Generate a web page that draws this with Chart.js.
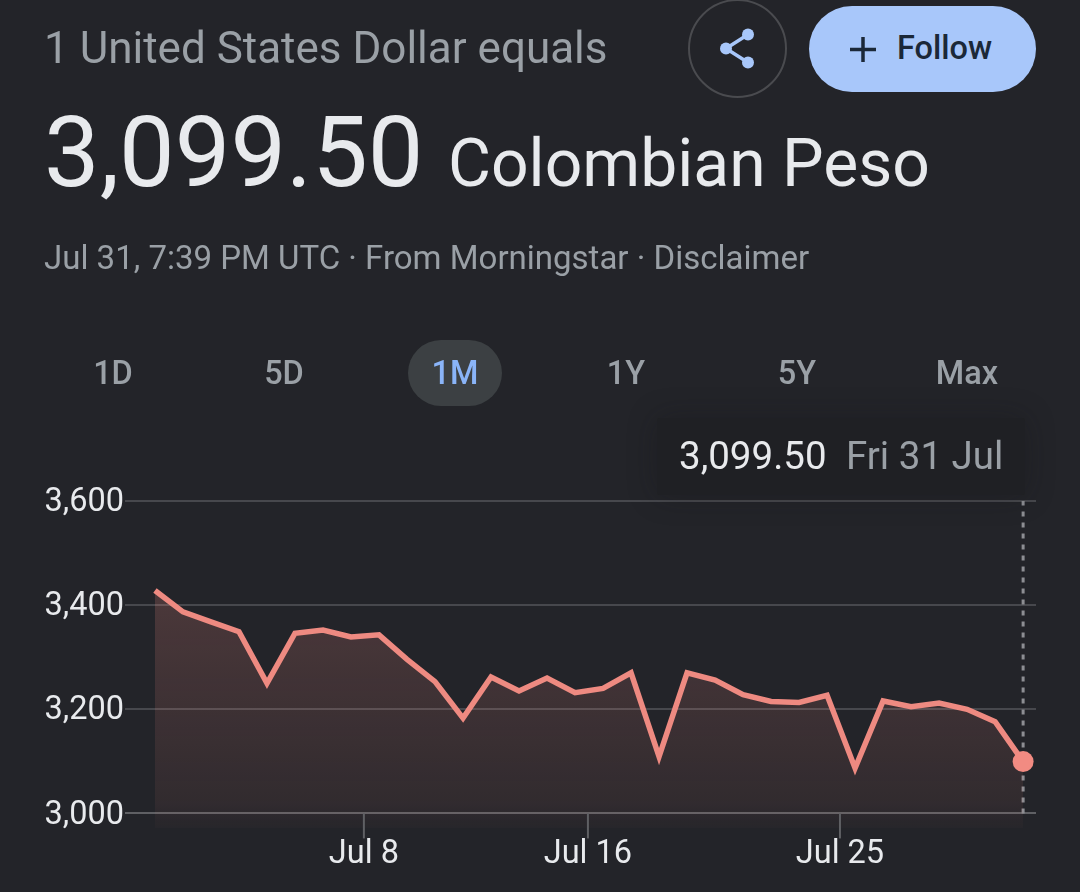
<!DOCTYPE html>
<html><head><meta charset="utf-8">
<script src="https://cdn.jsdelivr.net/npm/chart.js@4"></script>
<style>
html,body{margin:0;padding:0;background:#232429;width:1080px;height:892px;overflow:hidden;font-family:Roboto,sans-serif}
#c{position:absolute;left:0;top:0}
.t{position:absolute;white-space:nowrap;line-height:1}
.tab{position:absolute;top:340px;height:66px;line-height:66px;width:94px;text-align:center;font-size:32.5px;font-weight:500;color:#9aa0a6;border-radius:33px}
.tab.on{color:#8ab4f8;background:#3c4043}
#tip{position:absolute;left:657px;top:418px;width:368px;height:77px;background:#1f2024;box-shadow:0 0 30px rgba(20,20,24,.3);border-radius:3px}
#share{position:absolute;left:688px;top:-1px;width:95px;height:95px;border:2px solid #4a4b4f;border-radius:50%}
#follow{position:absolute;left:809px;top:6px;width:227px;height:86px;border-radius:43px;background:#a8c7fa}
</style></head><body>
<canvas id="c" width="1080" height="892"></canvas>
<div class="t" style="left:44px;top:26px;font-size:44px;color:#9aa0a6">1 United States Dollar equals</div>
<div class="t" style="left:44px;top:103px;font-size:99px;color:#e8eaed">3,099.50</div>
<div class="t" style="left:448px;top:131px;font-size:66px;color:#e8eaed">Colombian Peso</div>
<div class="t" style="left:44px;top:241px;font-size:33px;color:#9aa0a6">Jul 31, 7:39 PM UTC · From Morningstar · Disclaimer</div>
<div id="share"><svg width="95" height="95" viewBox="0 0 95 95" style="position:absolute;left:0;top:0">
<path d="M58 33.500 L36 47.500 L58 61.500" fill="none" stroke="#a8c7fa" stroke-width="3.5"/>
<circle cx="58" cy="33.500" r="6" fill="#a8c7fa"/><circle cx="36" cy="47.500" r="6" fill="#a8c7fa"/><circle cx="58" cy="61.500" r="6" fill="#a8c7fa"/></svg></div>
<div id="follow"><svg width="40" height="86" style="position:absolute;left:30px;top:0"><path d="M11 43.500H37M24 31V56" stroke="#1b2838" stroke-width="3.500" fill="none"/></svg>
<div class="t" style="left:88px;top:26px;font-size:32.5px;font-weight:500;color:#1b2838">Follow</div></div>
<div class="tab" style="left:66px">1D</div>
<div class="tab" style="left:237px">5D</div>
<div class="tab on" style="left:408px">1M</div>
<div class="tab" style="left:579px">1Y</div>
<div class="tab" style="left:750px">5Y</div>
<div class="tab" style="left:920px">Max</div>
<div id="tip">
<div class="t" style="left:22px;top:19px;font-size:38.5px;color:#e8eaed">3,099.50</div>
<div class="t" style="left:189px;top:19px;font-size:38.5px;color:#9aa0a6">Fri 31 Jul</div>
</div>
<script>
const days = [0.54,1.54,2.54,3.54,4.54,5.54,6.54,7.54,8.54,9.54,10.54,11.54,12.54,13.54,14.54,15.54,16.54,17.54,18.54,19.54,20.54,21.54,22.54,23.54,24.54,25.54,26.54,27.54,28.54,29.54,30.54,31.54];
const rates = [3428,3387,3368,3349,3250,3346,3352,3339,3343,3296,3253,3183,3262,3235,3260,3232,3240,3270,3109,3270,3256,3228,3215,3213,3227,3087,3216,3205,3212,3200,3176,3099.5];
const yTicks = [3000,3200,3400,3600];
const xTicks = [8,16,25];
const xTickLabels = ['Jul 8','Jul 16','Jul 25'];
const cursorRange = [3000,3600];

const baseTicks = {
  id:'baseTicks',
  afterDatasetsDraw(chart){
    const {ctx,scales:{x,y}} = chart;
    const y0 = y.getPixelForValue(yTicks[0]);
    ctx.save();ctx.strokeStyle='#5f6064';ctx.lineWidth=2;
    xTicks.forEach(t=>{const px=x.getPixelForValue(t);ctx.beginPath();ctx.moveTo(px,y0);ctx.lineTo(px,y0+25);ctx.stroke();});
    ctx.restore();
  }
};
new Chart(document.getElementById('c'),{
  type:'line',
  plugins:[baseTicks],
  data:{datasets:[
    {data:cursorRange.map(v=>({x:days[days.length-1],y:v})),borderColor:'#8d8e93',borderWidth:3,borderDash:[5,6],pointRadius:0,fill:false,order:2},
    {data:days.map((d,i)=>({x:d,y:rates[i]})),borderColor:'#ee8a81',borderWidth:5.5,borderJoinStyle:'miter',borderCapStyle:'butt',tension:0,
     pointRadius:c=>c.dataIndex===days.length-1?10.500:0,pointBackgroundColor:'#f28b82',pointBorderWidth:0,
     fill:'start',order:1,
     backgroundColor(c){const a=c.chart.chartArea;if(!a)return 'rgba(242,139,130,.15)';
       const g=c.chart.ctx.createLinearGradient(0,590,0,a.bottom);g.addColorStop(0,'rgba(242,139,130,.2)');g.addColorStop(0.9,'rgba(242,139,130,.07)');g.addColorStop(1,'rgba(242,139,130,.02)');return g;}}
  ]},
  options:{
    responsive:false,animation:false,devicePixelRatio:1,
    layout:{padding:{top:501,right:44,left:0,bottom:0}},
    plugins:{legend:{display:false},tooltip:{enabled:false}},
    events:[],
    scales:{
      x:{type:'linear',min:-0.53,max:32,
        afterBuildTicks(s){s.ticks=xTicks.map(v=>({value:v}));},
        afterFit(s){s.height=64;},
        grid:{display:false},border:{display:false},
        ticks:{autoSkip:false,maxRotation:0,padding:-1,color:'#e8eaed',font:{family:'Roboto',size:32.5},callback:v=>xTickLabels[xTicks.indexOf(v)]}},
      y:{type:'linear',min:2972,max:3600,
        afterBuildTicks(s){s.ticks=yTicks.map(v=>({value:v}));},
        afterFit(s){s.width=125;},
        grid:{drawTicks:false,lineWidth:2,color:c=>c.tick&&c.tick.value===3000?'#5f6064':'#47484d'},border:{display:false},
        ticks:{padding:1,labelOffset:2,color:'#e8eaed',font:{family:'Roboto',size:32.5},callback:v=>v.toLocaleString('en-US')}}
    }
  }
});
</script>
</body></html>
